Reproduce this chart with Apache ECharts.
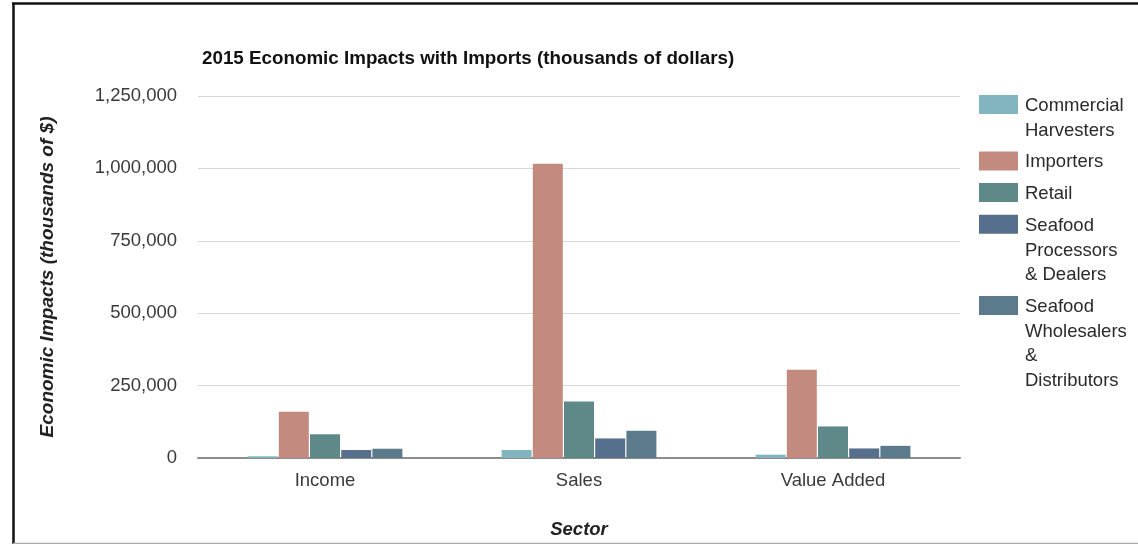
<!DOCTYPE html>
<html>
<head>
<meta charset="utf-8">
<script src="https://cdn.jsdelivr.net/npm/echarts@6/dist/echarts.min.js"></script>
<style>
html,body{margin:0;padding:0;background:#fff;}
#chart{width:1138px;height:544px;}
</style>
</head>
<body>
<div id="chart"></div>
<script>
// ---- data ----
const categories = ['Income', 'Sales', 'Value Added'];
const seriesNames = ['Commercial Harvesters', 'Importers', 'Retail', 'Seafood Processors & Dealers', 'Seafood Wholesalers & Distributors'];
const legendLabels = ['Commercial\nHarvesters', 'Importers', 'Retail', 'Seafood\nProcessors\n& Dealers', 'Seafood\nWholesalers\n&\nDistributors'];
const commercialHarvesters = [6000, 27500, 11500];
const importers = [160000, 1016000, 305000];
const retail = [82000, 195000, 109000];
const processorsDealers = [27500, 67500, 33000];
const wholesalersDistributors = [32000, 94000, 42000];
const yTicks = [0, 250000, 500000, 750000, 1000000, 1250000];
const colors = ['#82b5bf', '#c38a80', '#5f8888', '#566f8d', '#5b7b8d'];

const seriesValues = [commercialHarvesters, importers, retail, processorsDealers, wholesalersDistributors];
const FONT = '"Liberation Sans", Arial, sans-serif';

const chart = echarts.init(document.getElementById('chart'));

// legend built as graphic (icon aligned to first text line)
const legendGraphics = [];
let y = 95;
const lineH = 24.7;
legendLabels.forEach((lab, i) => {
  const nLines = lab.split('\n').length;
  legendGraphics.push({
    type: 'rect', shape: {x: 979, y: y, width: 39, height: 19},
    style: {fill: colors[i]}
  });
  legendGraphics.push({
    type: 'text', x: 1025, y: y + 11 - lineH / 2,
    style: {text: lab, font: '18.5px ' + FONT, fill: '#2a2a2a',
      lineHeight: lineH, verticalAlign: 'top', align: 'left'}
  });
  y += nLines * lineH + 7;
});

const borderGraphics = [
  {type: 'line', shape: {x1: 12, y1: 3.5, x2: 1138, y2: 3.5}, style: {stroke: '#111', lineWidth: 2.5}},
  {type: 'line', shape: {x1: 13.5, y1: 3, x2: 13.5, y2: 544}, style: {stroke: '#111', lineWidth: 2.5}},
  {type: 'line', shape: {x1: 13, y1: 543.5, x2: 1138, y2: 543.5}, style: {stroke: '#aaa', lineWidth: 1.5}}
];

const option = {
  backgroundColor: '#fff',
  animation: false,
  color: colors,
  title: {
    text: '2015 Economic Impacts with Imports (thousands of dollars)',
    left: 197, top: 44,
    textStyle: {fontFamily: FONT, fontSize: 18.8, fontWeight: 'bold', color: '#111'}
  },
  grid: {left: 198, right: 178, top: 96, bottom: 84, containLabel: false},
  xAxis: {
    type: 'category',
    data: categories,
    name: 'Sector',
    nameLocation: 'middle',
    nameGap: 62,
    nameTextStyle: {fontFamily: FONT, fontSize: 18.5, fontWeight: 'bold', fontStyle: 'italic', color: '#222'},
    axisLine: {lineStyle: {color: '#8c8c8c', width: 2}},
    axisTick: {show: false},
    axisLabel: {fontFamily: FONT, fontSize: 18.5, color: '#3a3a3a', margin: 13}
  },
  yAxis: {
    type: 'value',
    min: yTicks[0],
    max: yTicks[yTicks.length - 1],
    interval: yTicks[1] - yTicks[0],
    name: 'Economic Impacts (thousands of $)',
    nameLocation: 'middle',
    nameGap: 141,
    nameTextStyle: {fontFamily: FONT, fontSize: 19, fontWeight: 'bold', fontStyle: 'italic', color: '#222'},
    axisLine: {show: false},
    axisTick: {show: false},
    splitLine: {lineStyle: {color: '#d6d6d6', width: 1}},
    axisLabel: {
      fontFamily: FONT, fontSize: 18.5, color: '#3a3a3a', margin: 21,
      formatter: v => v.toLocaleString('en-US')
    }
  },
  series: seriesNames.map((n, i) => ({
    name: n,
    type: 'bar',
    data: seriesValues[i],
    barWidth: 30,
    barGap: '4%',
    itemStyle: {color: colors[i]}
  })),
  graphic: borderGraphics.concat(legendGraphics)
};
chart.setOption(option);
</script>
</body>
</html>
